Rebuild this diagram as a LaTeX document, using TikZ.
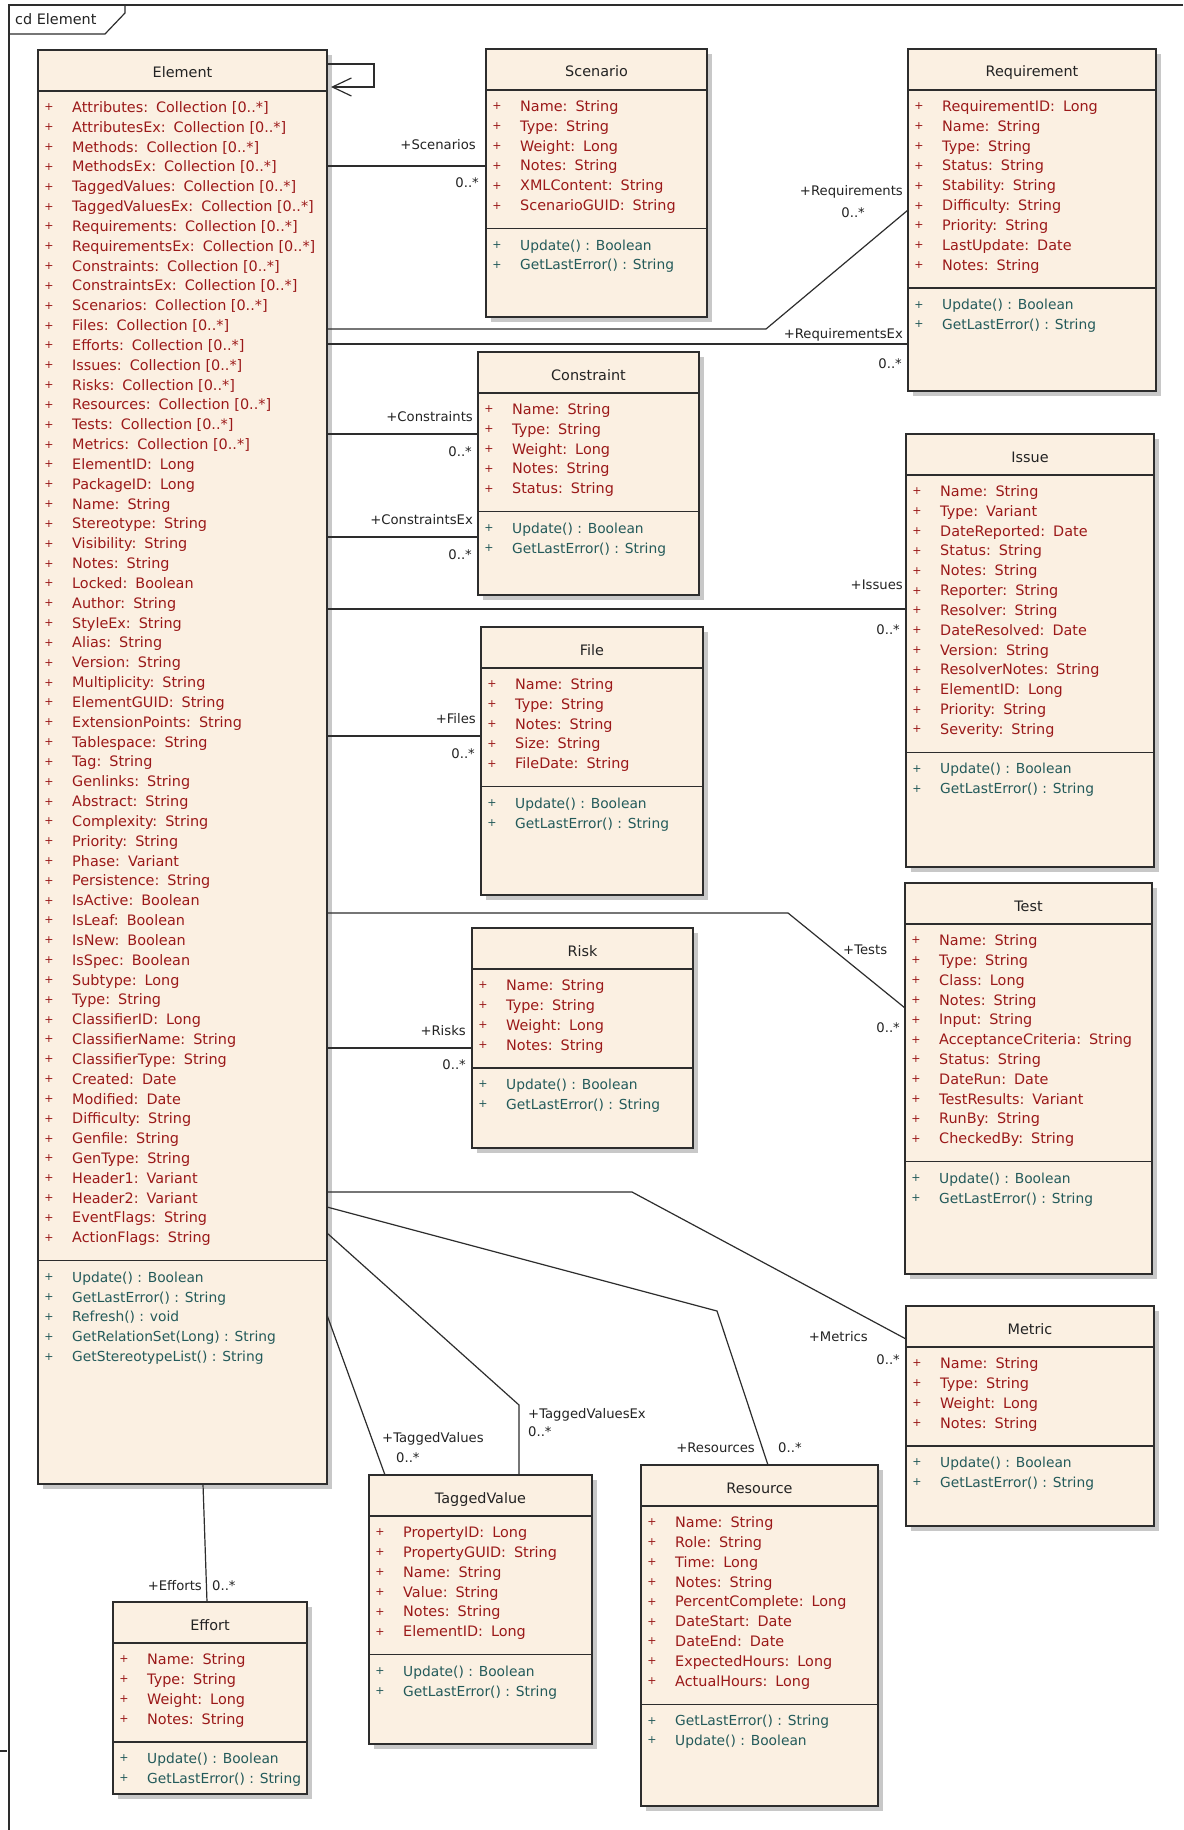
\documentclass[tikz,border=0pt]{standalone}
\usepackage{fontspec}
\newfontfamily\dvs{DejaVu Sans}
\usetikzlibrary{arrows.meta,calc}
\definecolor{beige}{RGB}{251,240,226}
\definecolor{attrc}{RGB}{155,25,25}
\definecolor{opc}{RGB}{35,90,90}
\definecolor{bordc}{RGB}{45,45,45}
\definecolor{shadc}{RGB}{200,200,200}
\definecolor{lblc}{RGB}{35,35,35}
\tikzset{
 classbox/.style={draw=bordc, line width=1.3pt, fill=beige, rectangle, inner sep=0pt, outer sep=0pt, anchor=north west},
 boxline/.style={draw=bordc, line width=1.3pt},
 conn/.style={draw=bordc, line width=1.2pt},
 rowtxt/.style={font=\dvs\fontsize{14.4}{16}\selectfont, inner sep=0pt, anchor=base west},
 optxt/.style={font=\dvs\fontsize{13.8}{16}\selectfont, inner sep=0pt, anchor=base west},
 plussign/.style={font=\dvs\fontsize{11}{12}\selectfont, inner sep=0pt, anchor=center},
 titletxt/.style={font=\dvs\fontsize{14.4}{16}\selectfont, inner sep=0pt, anchor=base, text=lblc},
 lbl/.style={font=\dvs\fontsize{13.2}{15}\selectfont, inner sep=0pt, anchor=base east, text=lblc},
 framel/.style={draw=bordc, line width=1.2pt},
}
% #1 name #2 left #3 top #4 right #5 bottom #6 title #7 number of attributes #8 attributes #9 operations
\newcommand\umlclass[9]{%
  \fill[shadc] ({#2+5},{#3+5}) rectangle ({#4+5},{#5+5});
  \pgfmathsetmacro\bw{#4-#2}\pgfmathsetmacro\bh{#5-#3}
  \node[classbox, minimum width=\bw pt, minimum height=\bh pt] (#1) at (#2,#3) {};
  \draw[boxline] (#2,{#3+41}) -- (#4,{#3+41});
  \node[titletxt] (#1-t) at ({(#2+#4)/2},{#3+28}) {#6};
  \foreach \atname/\attype [count=\i from 0] in {#8}{
    \pgfmathsetmacro\yy{#3+57.5+19.83*\i}
    \node[plussign, text=attrc] (#1-ap\i) at ({#2+11},\yy) {+};
    \node[rowtxt, text=attrc] (#1-a\i) at ({#2+34},{\yy+5}) {\atname:\hspace{8pt}\attype};
  }
  \pgfmathsetmacro\sy{#3+57.5+19.83*(#7-1)+23}
  \draw[boxline] (#2,\sy) -- (#4,\sy);
  \foreach \opname [count=\i from 0] in {#9}{
    \pgfmathsetmacro\yy{\sy+16.5+19.83*\i}
    \node[plussign, text=opc] (#1-op\i) at ({#2+11},\yy) {+};
    \node[optxt, text=opc] (#1-o\i) at ({#2+34},{\yy+5}) {\opname};
  }
}
\begin{document}
\begin{tikzpicture}[x=1pt,y=-1pt]
\fill[white] (0,0) rectangle (1183,1830);
\useasboundingbox (0,0) rectangle (1183,1830);
% frame
\draw[framel] (1183,5) -- (9,5) -- (9,1830);
\draw[framel] (9,34) -- (105,34) -- (125,13) -- (125,5);
\node[font=\dvs\fontsize{14.4}{16}\selectfont, inner sep=0pt, anchor=base west, text=lblc] (frametitle) at (15,25) {cd Element};
\draw[framel] (0,1751) -- (7,1751);

\umlclass{element}{38}{50}{327}{1484}{Element}{58}{
{Attributes}/{Collection [0..*]},
{AttributesEx}/{Collection [0..*]},
{Methods}/{Collection [0..*]},
{MethodsEx}/{Collection [0..*]},
{TaggedValues}/{Collection [0..*]},
{TaggedValuesEx}/{Collection [0..*]},
{Requirements}/{Collection [0..*]},
{RequirementsEx}/{Collection [0..*]},
{Constraints}/{Collection [0..*]},
{ConstraintsEx}/{Collection [0..*]},
{Scenarios}/{Collection [0..*]},
{Files}/{Collection [0..*]},
{Efforts}/{Collection [0..*]},
{Issues}/{Collection [0..*]},
{Risks}/{Collection [0..*]},
{Resources}/{Collection [0..*]},
{Tests}/{Collection [0..*]},
{Metrics}/{Collection [0..*]},
ElementID/Long, PackageID/Long, Name/String, Stereotype/String, Visibility/String,
Notes/String, Locked/Boolean, Author/String, StyleEx/String, Alias/String,
Version/String, Multiplicity/String, ElementGUID/String, ExtensionPoints/String,
Tablespace/String, Tag/String, Genlinks/String, Abstract/String, Complexity/String,
Priority/String, Phase/Variant, Persistence/String, IsActive/Boolean, IsLeaf/Boolean,
IsNew/Boolean, IsSpec/Boolean, Subtype/Long, Type/String, ClassifierID/Long,
ClassifierName/String, ClassifierType/String, Created/Date, Modified/Date,
Difficulty/String, Genfile/String, GenType/String, Header1/Variant, Header2/Variant,
EventFlags/String, ActionFlags/String}{Update() : Boolean, GetLastError() : String, Refresh() : void, GetRelationSet(Long) : String, GetStereotypeList() : String}

\umlclass{scenario}{486}{49}{707}{317}{Scenario}{6}{Name/String, Type/String, Weight/Long, Notes/String, XMLContent/String, ScenarioGUID/String}{Update() : Boolean, GetLastError() : String}

\umlclass{requirement}{908}{49}{1156}{391}{Requirement}{9}{RequirementID/Long, Name/String, Type/String, Status/String, Stability/String, Difficulty/String, Priority/String, LastUpdate/Date, Notes/String}{Update() : Boolean, GetLastError() : String}

\umlclass{constraint}{478}{352}{699}{595}{Constraint}{5}{Name/String, Type/String, Weight/Long, Notes/String, Status/String}{Update() : Boolean, GetLastError() : String}

\umlclass{issue}{906}{434}{1154}{867}{Issue}{13}{Name/String, Type/Variant, DateReported/Date, Status/String, Notes/String, Reporter/String, Resolver/String, DateResolved/Date, Version/String, ResolverNotes/String, ElementID/Long, Priority/String, Severity/String}{Update() : Boolean, GetLastError() : String}

\umlclass{file}{481}{627}{703}{895}{File}{5}{Name/String, Type/String, Notes/String, Size/String, FileDate/String}{Update() : Boolean, GetLastError() : String}

\umlclass{test}{905}{883}{1152}{1274}{Test}{11}{Name/String, Type/String, Class/Long, Notes/String, Input/String, AcceptanceCriteria/String, Status/String, DateRun/Date, TestResults/Variant, RunBy/String, CheckedBy/String}{Update() : Boolean, GetLastError() : String}

\umlclass{risk}{472}{928}{693}{1148}{Risk}{4}{Name/String, Type/String, Weight/Long, Notes/String}{Update() : Boolean, GetLastError() : String}

\umlclass{metric}{906}{1306}{1154}{1526}{Metric}{4}{Name/String, Type/String, Weight/Long, Notes/String}{Update() : Boolean, GetLastError() : String}

\umlclass{taggedvalue}{369}{1475}{592}{1744}{TaggedValue}{6}{PropertyID/Long, PropertyGUID/String, Name/String, Value/String, Notes/String, ElementID/Long}{Update() : Boolean, GetLastError() : String}

\umlclass{resource}{641}{1465}{878}{1806}{Resource}{9}{Name/String, Role/String, Time/Long, Notes/String, PercentComplete/Long, DateStart/Date, DateEnd/Date, ExpectedHours/Long, ActualHours/Long}{GetLastError() : String, Update() : Boolean}

\umlclass{effort}{113}{1602}{307}{1794}{Effort}{4}{Name/String, Type/String, Weight/Long, Notes/String}{Update() : Boolean, GetLastError() : String}

% connectors
\draw[conn, -{Straight Barb[length=19pt,width=18pt]}] (element.east |- 0,64) -- (374,64) -- (374,87) -- ($(element.east |- 0,87)+(4,0)$);
\draw[conn] (element.east |- 0,166) -- (scenario.west |- 0,166);
\draw[conn] (element.east |- 0,329) -- (766,329) -- (requirement.west |- 0,210);
\draw[conn] (element.east |- 0,344) -- (requirement.west |- 0,344);
\draw[conn] (element.east |- 0,434) -- (constraint.west |- 0,434);
\draw[conn] (element.east |- 0,537) -- (constraint.west |- 0,537);
\draw[conn] (element.east |- 0,609) -- (issue.west |- 0,609);
\draw[conn] (element.east |- 0,736) -- (file.west |- 0,736);
\draw[conn] (element.east |- 0,913) -- (788,913) -- (test.west |- 0,1008);
\draw[conn] (element.east |- 0,1048) -- (risk.west |- 0,1048);
\draw[conn] (element.east |- 0,1192) -- (632,1192) -- (metric.west |- 0,1339);
\draw[conn] (element.east |- 0,1207) -- (717,1311) -- (resource.north -| 768,0);
\draw[conn] (element.east |- 0,1233) -- (519,1405) -- (taggedvalue.north -| 519,0);
\draw[conn] (element.east |- 0,1315) -- (taggedvalue.north -| 385,0);
\draw[conn] (element.south -| 203,0) -- (effort.north -| 207,0);

% role labels
\node[lbl] (l1) at (476,150) {+Scenarios};
\node[lbl] (m1) at (479,188) {0..*};
\node[lbl] (l2) at (903,196) {+Requirements};
\node[lbl] (m2) at (865,218) {0..*};
\node[lbl] (l3) at (903,338) {+RequirementsEx};
\node[lbl] (m3) at (902,368) {0..*};
\node[lbl] (l4) at (473,421) {+Constraints};
\node[lbl] (m4) at (472,456) {0..*};
\node[lbl] (l5) at (473,524) {+ConstraintsEx};
\node[lbl] (m5) at (472,559) {0..*};
\node[lbl] (l6) at (903,589) {+Issues};
\node[lbl] (m6) at (900,634) {0..*};
\node[lbl] (l7) at (476,723) {+Files};
\node[lbl] (m7) at (475,758) {0..*};
\node[lbl, anchor=base west] (l8) at (843,954) {+Tests};
\node[lbl] (m8) at (900,1032) {0..*};
\node[lbl] (l9) at (466,1035) {+Risks};
\node[lbl] (m9) at (466,1069) {0..*};
\node[lbl] (l10) at (868,1341) {+Metrics};
\node[lbl] (m10) at (900,1364) {0..*};
\node[lbl] (l11) at (755,1452) {+Resources};
\node[lbl, anchor=base west] (m11) at (778,1452) {0..*};
\node[lbl, anchor=base west] (l12) at (528,1418) {+TaggedValuesEx};
\node[lbl, anchor=base west] (m12) at (528,1436) {0..*};
\node[lbl, anchor=base west] (l13) at (382,1442) {+TaggedValues};
\node[lbl, anchor=base west] (m13) at (396,1462) {0..*};
\node[lbl] (l14) at (202,1590) {+Efforts};
\node[lbl, anchor=base west] (m14) at (212,1590) {0..*};
\end{tikzpicture}
\end{document}
